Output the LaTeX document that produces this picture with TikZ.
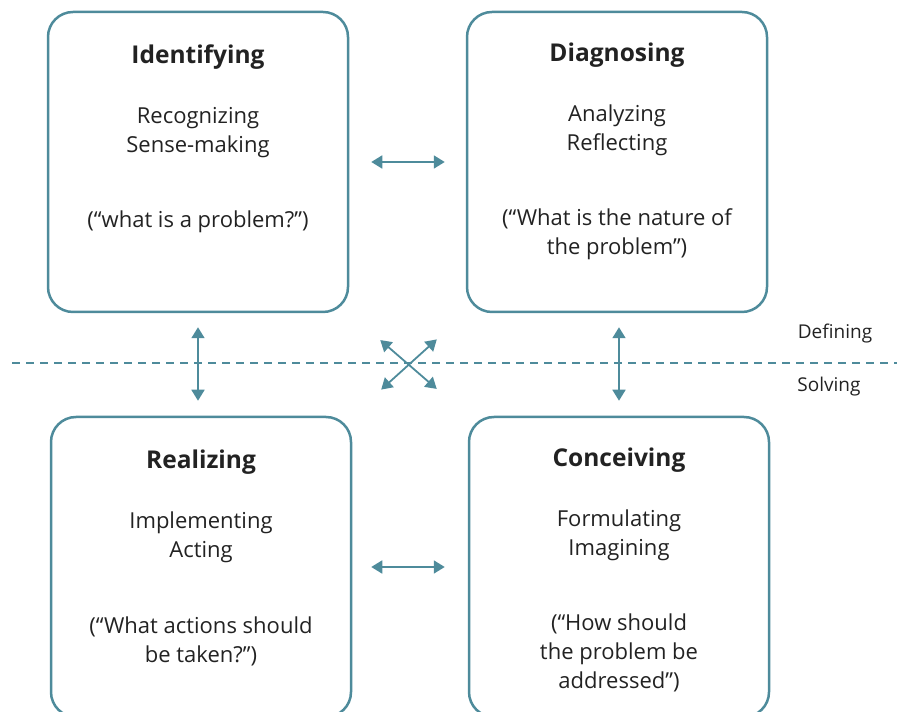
\documentclass[tikz,border=0pt]{standalone}
\usepackage{fontspec}
\setmainfont{Open Sans}
\usepackage{xcolor}
\usetikzlibrary{arrows.meta}
\definecolor{teal}{RGB}{78,139,155}
\definecolor{ink}{RGB}{34,34,34}

\begin{document}
\begin{tikzpicture}[x=1pt, y=1pt, every node/.style={text=ink, font=\fontsize{22}{29}\selectfont, align=center},%
        stage/.style={draw=teal, line width=2.5pt, rounded corners=25pt, minimum width=300pt, minimum height=300pt},
        title/.style={font=\fontsize{24.5}{29}\selectfont\bfseries},
        link/.style={draw=teal, line width=1.8pt, {Triangle[length=11pt,width=13pt]}-{Triangle[length=11pt,width=13pt]}}]
        \useasboundingbox (0,0) rectangle (897,712);
        \clip (0,0) rectangle (897,712);
        % the four stages
        \node[stage] (tl) at (198,550) {};
        \node[stage] (tr) at (617,550) {};
        \node[stage] (bl) at (201,145) {};
        \node[stage] (br) at (619,145) {};
        % texts
        \node[title] (tl-t) at (198,655) {Identifying};
        \node (tl-a) at (198,579) {Recognizing\\Sense-making};
        \node (tl-q) at (198,490) {(“what is a problem?”)};
        \node[title] (tr-t) at (617,657) {Diagnosing};
        \node (tr-a) at (617,582) {Analyzing\\Reflecting};
        \node (tr-q) at (617,478) {(“What is the nature of\\the problem”)};
        \node[title] (bl-t) at (201,250) {Realizing};
        \node (bl-a) at (201,175) {Implementing\\Acting};
        \node (bl-q) at (201,71) {(“What actions should\\be taken?”)};
        \node[title] (br-t) at (619,252) {Conceiving};
        \node (br-a) at (619,177) {Formulating\\Imagining};
        \node (br-q) at (619,59) {(“How should\\the problem be\\addressed”)};
        % defining / solving
        \coordinate (dl) at (12,349);
        \coordinate (dr) at (897,349);
        \draw[teal, line width=1.2pt, dash pattern=on 8pt off 6pt] (dl) -- (dr);
        \node (def) at (835,378) {\fontsize{19}{24}\selectfont Defining};
        \node (sol) at (829,325) {\fontsize{19}{24}\selectfont Solving};
        % arrows
        \draw[link, shorten <=22pt, shorten >=21pt] (tl.east) -- (tr.west);
        \draw[link, shorten <=19pt, shorten >=23pt] (bl.east) -- (br.west);
        \draw[link, shorten <=14pt, shorten >=15pt] (tl.south) -- (tl.south |- bl.north);
        \draw[link, shorten <=14pt, shorten >=15pt] (br.north |- tr.south) -- (br.north);
        \draw[link, shorten <=41pt, shorten >=41pt] (tl.south east) -- (br.north west);
        \draw[link, shorten <=39pt, shorten >=39pt] (tr.south west) -- (bl.north east);
\end{tikzpicture}
\end{document}
